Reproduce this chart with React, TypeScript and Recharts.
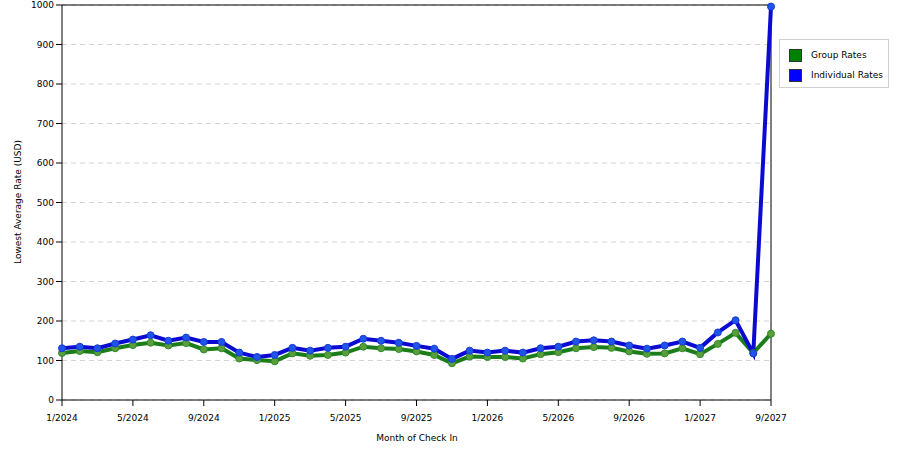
import { LineChart, Line, XAxis, YAxis, CartesianGrid, ReferenceLine, Label } from 'recharts';

const months = [
  '1/2024', '2/2024', '3/2024', '4/2024', '5/2024', '6/2024', '7/2024', '8/2024', '9/2024', '10/2024', '11/2024', '12/2024',
  '1/2025', '2/2025', '3/2025', '4/2025', '5/2025', '6/2025', '7/2025', '8/2025', '9/2025', '10/2025', '11/2025', '12/2025',
  '1/2026', '2/2026', '3/2026', '4/2026', '5/2026', '6/2026', '7/2026', '8/2026', '9/2026', '10/2026', '11/2026', '12/2026',
  '1/2027', '2/2027', '3/2027', '4/2027', '9/2027',
];

const groupRates = [
  119, 124, 121, 131, 139, 145, 138, 144, 128, 131, 105, 101,
  98, 118, 112, 114, 120, 135, 131, 129, 123, 114, 93, 110,
  109, 109, 105, 116, 121, 131, 134, 132, 123, 117, 118, 131,
  116, 142, 170, 119, 168,
];

const individualRates = [
  131, 135, 131, 143, 153, 164, 150, 158, 147, 147, 120, 109,
  114, 132, 125, 132, 135, 155, 150, 145, 137, 130, 104, 125,
  120, 125, 120, 131, 135, 148, 151, 148, 138, 130, 138, 148,
  132, 171, 202, 118, 996,
];

const yTicks = [0, 100, 200, 300, 400, 500, 600, 700, 800, 900, 1000];

const legendItems = [
  { name: 'Group Rates', color: '#008000' },
  { name: 'Individual Rates', color: '#0000ff' },
];

const data = months.map((m, i) => ({ month: m, group: groupRates[i], individual: individualRates[i] }));

const font = 'DejaVu Sans, Verdana, sans-serif';

const LegendBox = () => (
  <div
    style={{
      position: 'absolute',
      left: 779,
      top: 39,
      width: 108,
      height: 47,
      border: '1px solid #d0d0d0',
      background: '#fff',
      boxSizing: 'content-box',
      fontFamily: font,
      fontSize: 9,
      color: '#000',
    }}
  >
    <div style={{ paddingTop: 5, paddingLeft: 9 }}>
      {legendItems.map((e) => (
        <div key={e.name} style={{ display: 'flex', alignItems: 'center', height: 20, whiteSpace: 'nowrap' }}>
          <span
            style={{ width: 11, height: 11, background: e.color, border: '1px solid #333', marginRight: 9, display: 'inline-block' }}
          />
          {e.name}
        </div>
      ))}
    </div>
  </div>
);

export default function App() {
  return (
    <div style={{ position: 'absolute', left: 0, top: 0, width: 900, height: 450, background: '#fff' }}>
      <LineChart width={900} height={450} data={data} margin={{ top: 5, right: 129, bottom: 0, left: 0 }}>
        <CartesianGrid vertical={false} stroke="#d4d4d4" strokeDasharray="5 4" />
        <XAxis
          dataKey="month"
          interval={3}
          height={50}
          tickSize={6}
          tickMargin={9}
          stroke="#000"
          tick={{ fill: '#000', fontSize: 9, fontFamily: font }}
        >
          <Label
            content={() => (
              <text x={417} y={441} textAnchor="middle" fontSize={9} fontFamily={font} fill="#000">
                Month of Check In
              </text>
            )}
          />
        </XAxis>
        <YAxis
          domain={[0, 1000]}
          ticks={yTicks}
          width={62}
          tickSize={6}
          stroke="#000"
          tick={{ fill: '#000', fontSize: 9, fontFamily: font }}
        >
          <Label
            content={() => (
              <text
                x={18}
                y={202}
                transform="rotate(-90, 18, 202)"
                textAnchor="middle"
                dominantBaseline="central"
                fontSize={9}
                fontFamily={font}
                fill="#000"
              >
                Lowest Average Rate (USD)
              </text>
            )}
          />
        </YAxis>
        <ReferenceLine y={1000} stroke="#000" />
        <ReferenceLine x="9/2027" stroke="#000" />
        <Line
          type="linear"
          dataKey="group"
          stroke="#1a7d1a"
          strokeWidth={4}
          dot={{ r: 3.5, fill: '#5a9e3a', stroke: '#2e8b2e', strokeWidth: 1 }}
          isAnimationActive={false}
        />
        <Line
          type="linear"
          dataKey="individual"
          stroke="#0a0ad0"
          strokeWidth={4}
          dot={{ r: 3.5, fill: '#1e55e8', stroke: '#1a3ad8', strokeWidth: 1 }}
          isAnimationActive={false}
        />
      </LineChart>
      <LegendBox />
    </div>
  );
}
